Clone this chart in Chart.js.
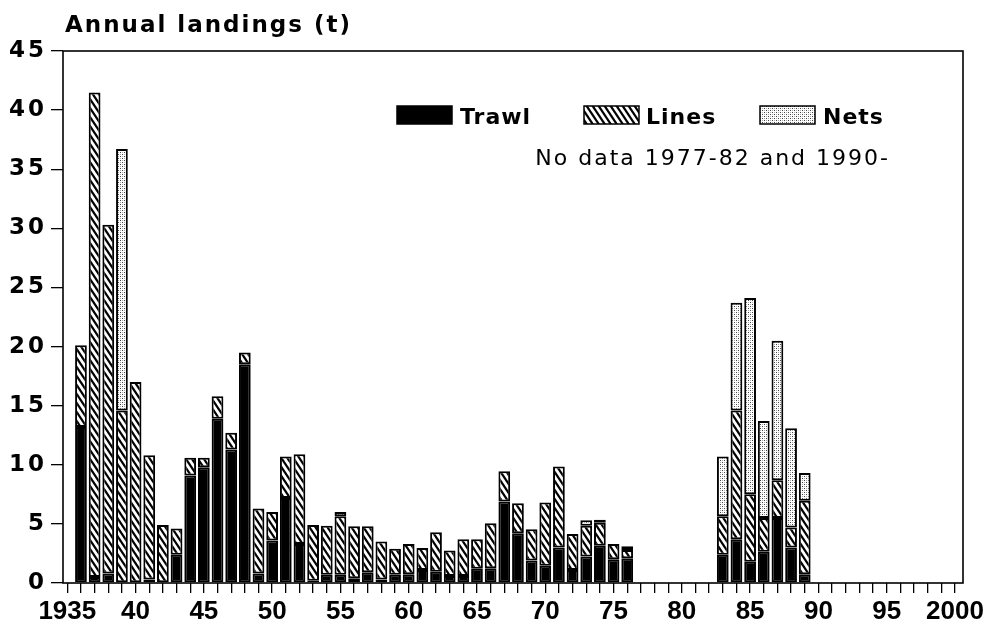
<!DOCTYPE html>
<html>
<head>
<meta charset="utf-8">
<title>Annual landings</title>
<script src="https://cdn.jsdelivr.net/npm/chart.js@4.4.1/dist/chart.umd.min.js"></script>
<style>
  html, body { margin: 0; padding: 0; background: #fff; }
  #wrap { width: 993px; height: 630px; }
</style>
</head>
<body>
<div id="wrap"><canvas id="c" width="993" height="630"></canvas></div>
<script>
// Years with recorded landings (none for 1977-82 and from 1990 on)
const years = [1936, 1937, 1938, 1939, 1940, 1941, 1942, 1943, 1944, 1945,
               1946, 1947, 1948, 1949, 1950, 1951, 1952, 1953, 1954, 1955,
               1956, 1957, 1958, 1959, 1960, 1961, 1962, 1963, 1964, 1965,
               1966, 1967, 1968, 1969, 1970, 1971, 1972, 1973, 1974, 1975,
               1976, 1983, 1984, 1985, 1986, 1987, 1988, 1989];

// Landings by gear, tonnes (stacked: trawl, then lines, then nets)
const trawl = [13.2, 0.5, 0.8, 0, 0, 0.3, 0, 2.4, 9.1, 9.8,
               13.9, 11.3, 18.5, 0.8, 3.6, 7.2, 3.3, 0.2, 0.7, 0.7,
               0.4, 0.9, 0.3, 0.7, 0.75, 1.1, 0.95, 0.6, 0.6, 1.2,
               1.25, 6.9, 4.2, 1.9, 1.45, 3.0, 1.1, 2.25, 3.15, 2.0,
               2.1, 2.4, 3.7, 1.8, 2.65, 5.5, 3.0, 0.75];

const lines = [6.9, 41.0, 29.5, 14.6, 17.0, 10.5, 4.9, 2.2, 1.5, 0.8,
               1.9, 1.4, 1.0, 5.5, 2.4, 3.5, 7.6, 4.7, 4.15, 4.95,
               4.4, 3.9, 3.2, 2.2, 2.55, 1.85, 3.35, 2.15, 3.1, 2.5,
               3.8, 2.55, 2.55, 2.65, 5.35, 6.85, 3.05, 2.6, 1.95, 1.3,
               0.7, 3.25, 10.9, 5.7, 2.85, 3.2, 1.7, 6.2];

const nets = [null, null, null, 22.1, null, null, null, null, null, null,
              null, null, null, null, null, null, null, null, null, 0.35,
              null, null, null, null, null, null, null, null, null, null,
              null, null, null, null, null, null, null, 0.45, 0.25, null,
              0.3, 5.05, 9.1, 16.6, 8.2, 11.8, 8.4, 2.35];

const seriesNames = ['Trawl', 'Lines', 'Nets'];

// Axis ticks and labels
const axisYears = [];
for (let yr = 1935; yr <= 2000; yr++) axisYears.push(yr);
const xLabelYears = [1935, 1940, 1945, 1950, 1955, 1960, 1965, 1970, 1975, 1980, 1985, 1990, 1995, 2000];
const xLabelTexts = ['1935', '40', '45', '50', '55', '60', '65', '70', '75', '80', '85', '90', '95', '2000'];
const yTicks = [0, 5, 10, 15, 20, 25, 30, 35, 40, 45];

const titleText = 'Annual landings (t)';
const noteText = 'No data 1977-82 and 1990-';

// Fill patterns: diagonal hatching for lines, fine stipple for nets
function makeHatch() {
  const c = document.createElement('canvas');
  c.width = 6; c.height = 9;
  const g = c.getContext('2d');
  g.fillStyle = '#fff';
  g.fillRect(0, 0, 6, 9);
  g.strokeStyle = '#000';
  g.lineWidth = 2.2;
  for (const dx of [-6, 0, 6]) {
    g.beginPath();
    g.moveTo(dx - 6, -9);
    g.lineTo(dx + 12, 18);
    g.stroke();
  }
  return g.createPattern(c, 'repeat');
}

function makeStipple() {
  const c = document.createElement('canvas');
  c.width = 4; c.height = 4;
  const g = c.getContext('2d');
  g.fillStyle = '#fff';
  g.fillRect(0, 0, 4, 4);
  g.fillStyle = '#444';
  g.fillRect(0, 0, 1, 1);
  g.fillRect(2, 2, 1, 1);
  g.fillStyle = '#aaa';
  g.fillRect(2, 0, 1, 1);
  g.fillRect(0, 2, 1, 1);
  return g.createPattern(c, 'repeat');
}

const hatch = makeHatch();
const stipple = makeStipple();
const fills = ['#000', hatch, stipple];
const seriesData = [trawl, lines, nets];

// Plot frame, heading, key and note
const decorations = {
  id: 'decorations',
  beforeDraw(chart) {
    chart.ctx.letterSpacing = '0px';
  },
  afterDatasetsDraw(chart) {
    // wide lettering for the value axis labels (drawn on a later layer)
    chart.ctx.letterSpacing = '3px';
  },
  afterDraw(chart) {
    const ctx = chart.ctx;
    const a = chart.chartArea;
    ctx.save();
    ctx.letterSpacing = '0px';
    ctx.strokeStyle = '#000';
    ctx.lineWidth = 1.6;
    ctx.strokeRect(a.left, a.top, a.right - a.left, a.bottom - a.top);

    ctx.fillStyle = '#000';
    ctx.textBaseline = 'alphabetic';
    ctx.textAlign = 'left';
    ctx.letterSpacing = '2px';
    ctx.font = 'bold 23px "DejaVu Sans"';
    ctx.fillText(titleText, 65, 32);

    const keys = [{x: 397, tx: 460}, {x: 584, tx: 646}, {x: 760, tx: 823}];
    ctx.letterSpacing = '1px';
    ctx.font = 'bold 22px "DejaVu Sans"';
    keys.forEach((k, i) => {
      ctx.fillStyle = fills[i];
      ctx.fillRect(k.x, 106, 55, 18);
      ctx.strokeStyle = '#000';
      ctx.lineWidth = 1.5;
      ctx.strokeRect(k.x, 106, 55, 18);
      ctx.fillStyle = '#000';
      ctx.fillText(seriesNames[i], k.tx, 124);
    });

    ctx.letterSpacing = '2px';
    ctx.font = '22px "DejaVu Sans"';
    ctx.textAlign = 'right';
    ctx.fillText(noteText, 890, 165);
    ctx.restore();
    ctx.letterSpacing = '0px';
  }
};

new Chart(document.getElementById('c').getContext('2d'), {
  type: 'bar',
  data: {
    datasets: seriesNames.map((name, s) => ({
      label: name,
      data: years.map((yr, i) => ({x: yr, y: seriesData[s][i]})),
      backgroundColor: fills[s],
      borderColor: '#000'
    }))
  },
  options: {
    responsive: false,
    animation: false,
    devicePixelRatio: 1,
    layout: {padding: {left: 0, top: 51, right: 30, bottom: 0}},
    datasets: {
      bar: {
        barPercentage: 0.86,
        categoryPercentage: 1,
        borderWidth: 2,
        borderSkipped: false
      }
    },
    plugins: {
      legend: {display: false},
      tooltip: {enabled: false},
      title: {display: false}
    },
    scales: {
      x: {
        type: 'linear',
        stacked: true,
        offset: false,
        min: 1934.685,
        max: 2000.59,
        afterFit(scale) { scale.height = 47; },
        afterBuildTicks(scale) { scale.ticks = axisYears.map(v => ({value: v})); },
        border: {display: false},
        grid: {drawOnChartArea: false, drawTicks: true, tickLength: 10, color: '#000', lineWidth: 1.3, offset: false},
        ticks: {
          autoSkip: false,
          maxRotation: 0,
          minRotation: 0,
          padding: 3,
          color: '#000',
          font: {family: 'Liberation Sans', weight: 'bold', size: 26},
          callback(value) {
            const k = xLabelYears.indexOf(value);
            return k < 0 ? '' : xLabelTexts[k];
          }
        }
      },
      y: {
        stacked: true,
        min: 0,
        max: 45,
        afterFit(scale) { scale.width = 63; },
        afterBuildTicks(scale) { scale.ticks = yTicks.map(v => ({value: v})); },
        border: {display: false},
        grid: {drawOnChartArea: false, drawTicks: true, tickLength: 12, color: '#000', lineWidth: 1.3},
        ticks: {
          z: 1,
          padding: 4,
          color: '#000',
          font: {family: 'DejaVu Sans', weight: 'bold', size: 23}
        }
      }
    }
  },
  plugins: [decorations]
});
</script>
</body>
</html>
